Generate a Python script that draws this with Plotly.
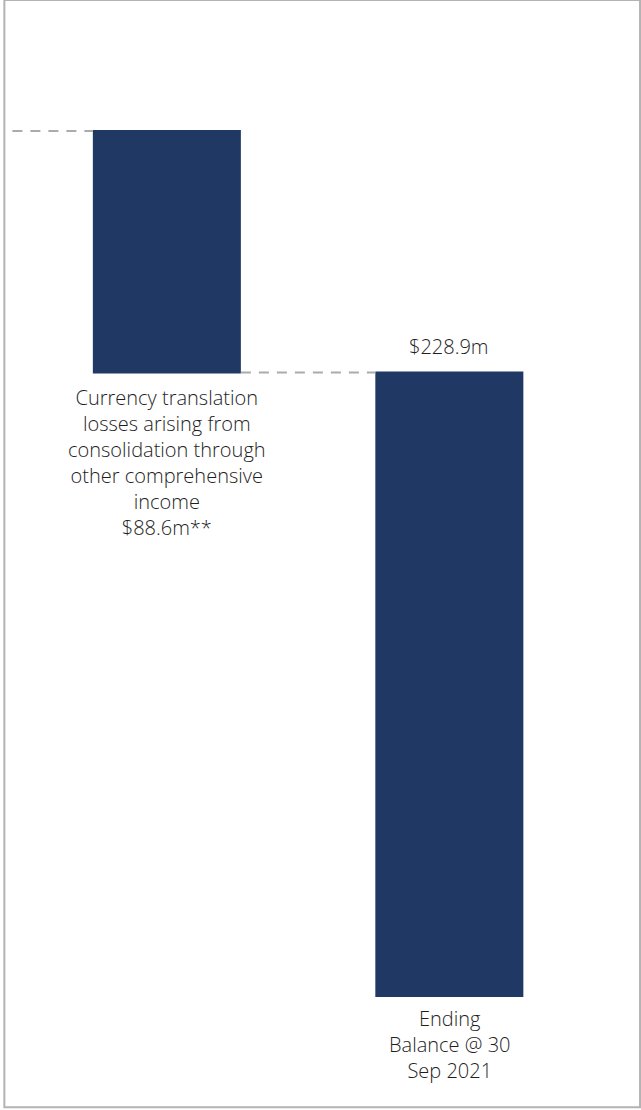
import plotly.graph_objects as go

# Waterfall steps: opening balance (left of the visible window), FX loss, closing total
positions = [-1, 0, 1]
measures = ["absolute", "relative", "total"]
opening_balance = 317.5
fx_loss = -88.6
closing_balance = 228.9
step_values = [opening_balance, fx_loss, 0]

bar_labels = [
    "",
    "Currency translation<br>losses arising from<br>consolidation through<br>other comprehensive<br>income<br>$88.6m**",
    "Ending<br>Balance @ 30<br>Sep 2021",
]
value_label = "$228.9m"

NAVY = "#1F3864"
GREY = "#ABABAB"
TEXT = "#1E1E1E"
FONT = "Open Sans"
FSIZE = 20

fig = go.Figure(
    go.Waterfall(
        x=positions,
        y=step_values,
        measure=measures,
        width=0.524,
        increasing=dict(marker=dict(color=NAVY)),
        decreasing=dict(marker=dict(color=NAVY)),
        totals=dict(marker=dict(color=NAVY)),
        connector=dict(mode="between", line=dict(color=GREY, width=2, dash="10px,8px")),
        textinfo="none",
        hoverinfo="skip",
        showlegend=False,
    )
)

label_font = dict(family=FONT, size=FSIZE, color=TEXT, weight=300)

# Category captions below each visible bar
fig.add_annotation(
    x=positions[1], y=closing_balance, text=bar_labels[1],
    showarrow=False, yanchor="top", yshift=-10, font=label_font,
)
fig.add_annotation(
    x=positions[2], y=0, text=bar_labels[2],
    showarrow=False, yanchor="top", yshift=-7, font=label_font,
)
# Closing value above the total bar
fig.add_annotation(
    x=positions[2], y=closing_balance, text=value_label,
    showarrow=False, yanchor="bottom", yshift=10, font=label_font,
)

# Chart frame
fig.add_shape(
    type="rect", xref="paper", yref="paper",
    x0=-0.001, x1=0.9985, y0=0.0025, y1=1.0,
    line=dict(color="#B3B3B3", width=2), layer="above",
)

fig.update_xaxes(range=[-0.573, 1.6785], visible=False, fixedrange=True)
fig.update_yaxes(range=[-41.84, 365.6], visible=False, fixedrange=True)
fig.update_layout(
    width=641, height=1110,
    margin=dict(l=5, r=0, t=0, b=0),
    paper_bgcolor="white", plot_bgcolor="white",
)

fig.write_html("out.html")
